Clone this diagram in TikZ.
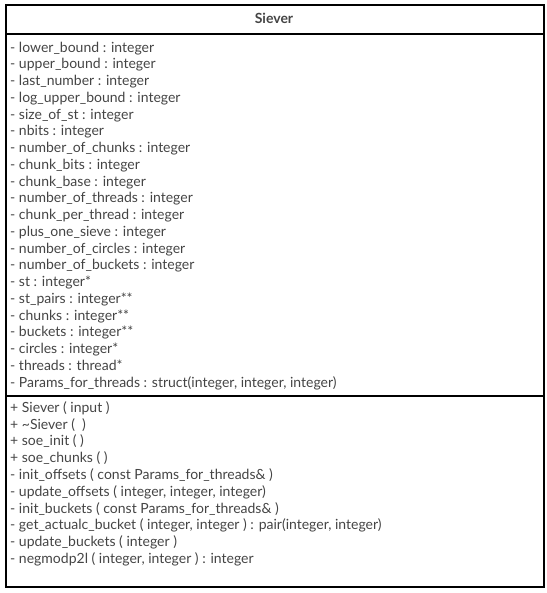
\documentclass[tikz,border=0pt]{standalone}
\usepackage{fontspec}
\setmainfont{Lato}
\definecolor{txt}{HTML}{444444}
\tikzset{
  frame/.style={draw=black, line width=2pt},
  member/.style={anchor=west, inner sep=0pt, text height=10pt, text depth=3pt, text=txt, font=\fontsize{14}{16}\selectfont, yshift=-1.2pt},
  title/.style={anchor=center, inner sep=0pt, text=txt, font=\bfseries\fontsize{14}{16}\selectfont}
}
\begin{document}
\begin{tikzpicture}[x=1pt,y=1pt]
\useasboundingbox (0,0) rectangle (546,-593);
\node[frame, rectangle, minimum width=538pt, minimum height=582pt, anchor=north west, inner sep=0pt] (box) at (5,-4) {};
\coordinate (d1l) at (5,-34); \coordinate (d1r) at (543,-34);
\coordinate (d2l) at (5,-396); \coordinate (d2r) at (543,-396);
\draw[frame] (d1l) -- (d1r);
\draw[frame] (d2l) -- (d2r);
\node[title] (name) at (274,-18.5) {Siever};
\node[member] (a1) at (10,-47.5) {- lower\_bound : integer};
\node[member] (a2) at (10,-64.25) {- upper\_bound : integer};
\node[member] (a3) at (10,-81) {- last\_number : integer};
\node[member] (a4) at (10,-97.75) {- log\_upper\_bound : integer};
\node[member] (a5) at (10,-114.5) {- size\_of\_st : integer};
\node[member] (a6) at (10,-131.25) {- nbits : integer};
\node[member] (a7) at (10,-148) {- number\_of\_chunks : integer};
\node[member] (a8) at (10,-164.75) {- chunk\_bits : integer};
\node[member] (a9) at (10,-181.5) {- chunk\_base : integer};
\node[member] (a10) at (10,-198.25) {- number\_of\_threads : integer};
\node[member] (a11) at (10,-215) {- chunk\_per\_thread : integer};
\node[member] (a12) at (10,-231.75) {- plus\_one\_sieve : integer};
\node[member] (a13) at (10,-248.5) {- number\_of\_circles : integer};
\node[member] (a14) at (10,-265.25) {- number\_of\_buckets : integer};
\node[member] (a15) at (10,-282) {- st : integer*};
\node[member] (a16) at (10,-298.75) {- st\_pairs : integer**};
\node[member] (a17) at (10,-315.5) {- chunks : integer**};
\node[member] (a18) at (10,-332.25) {- buckets : integer**};
\node[member] (a19) at (10,-349) {- circles : integer*};
\node[member] (a20) at (10,-365.75) {- threads : thread*};
\node[member] (a21) at (10,-382.5) {- Params\_for\_threads : struct(integer, integer, integer)};
\node[member] (m1) at (10,-407.5) {+ Siever ( input )};
\node[member] (m2) at (10,-424.3) {+ \textasciitilde Siever (\ \ )};
\node[member] (m3) at (10,-441.1) {+ soe\_init ( )};
\node[member] (m4) at (10,-457.9) {+ soe\_chunks ( )};
\node[member] (m5) at (10,-474.7) {- init\_offsets ( const Params\_for\_threads\& )};
\node[member] (m6) at (10,-491.5) {- update\_offsets ( integer, integer, integer)};
\node[member] (m7) at (10,-508.3) {- init\_buckets ( const Params\_for\_threads\& )};
\node[member] (m8) at (10,-525.1) {- get\_actualc\_bucket ( integer, integer ) : pair(integer, integer)};
\node[member] (m9) at (10,-541.9) {- update\_buckets ( integer )};
\node[member] (m10) at (10,-558.7) {- negmodp2l ( integer, integer ) : integer};
\end{tikzpicture}
\end{document}
